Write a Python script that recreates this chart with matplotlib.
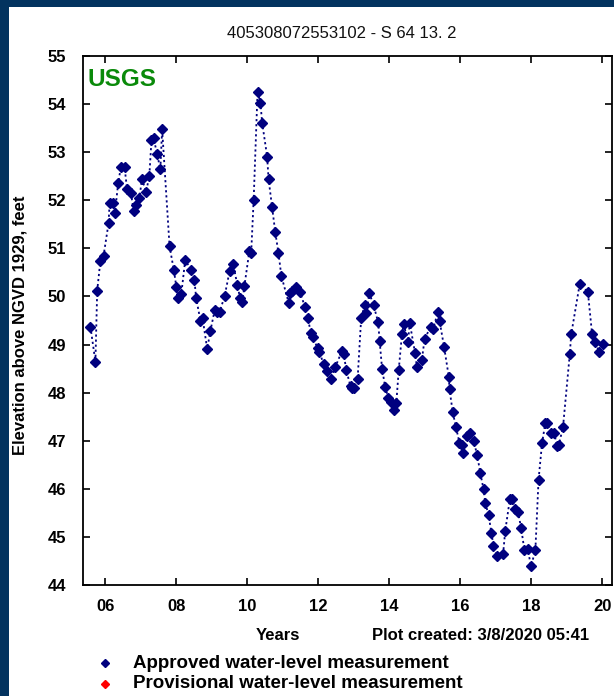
import matplotlib
matplotlib.use("Agg")
import matplotlib.pyplot as plt
from matplotlib.patches import Rectangle
from matplotlib.lines import Line2D

# ---- data (years since 2000, water-level elevation in feet) ----
years = [5.58, 5.72, 5.77, 5.86, 5.95, 6.09, 6.12, 6.22, 6.27, 6.36,
         6.44, 6.54, 6.61, 6.72, 6.80, 6.85, 6.96, 7.03, 7.15, 7.24,
         7.30, 7.36, 7.46, 7.55, 7.60, 7.81, 7.93, 8.00, 8.05, 8.14,
         8.25, 8.42, 8.51, 8.56, 8.68, 8.74, 8.87, 8.96, 9.08, 9.16,
         9.22, 9.36, 9.50, 9.60, 9.72, 9.80, 9.86, 9.92, 10.06, 10.11,
         10.18, 10.29, 10.37, 10.42, 10.56, 10.60, 10.70, 10.79, 10.88, 10.96,
         11.17, 11.21, 11.27, 11.38, 11.49, 11.62, 11.70, 11.80, 11.86, 11.98,
         12.03, 12.15, 12.25, 12.37, 12.48, 12.67, 12.72, 12.79, 12.91, 12.96,
         13.00, 13.11, 13.21, 13.31, 13.36, 13.44, 13.56, 13.69, 13.73, 13.80,
         13.89, 13.98, 14.05, 14.14, 14.20, 14.27, 14.36, 14.41, 14.53, 14.58,
         14.73, 14.78, 14.92, 15.00, 15.17, 15.24, 15.37, 15.42, 15.55, 15.68,
         15.70, 15.79, 15.88, 15.98, 16.05, 16.07, 16.19, 16.29, 16.38, 16.48,
         16.57, 16.66, 16.71, 16.80, 16.88, 16.94, 17.04, 17.21, 17.27, 17.40,
         17.46, 17.56, 17.63, 17.72, 17.81, 17.90, 18.00, 18.12, 18.21, 18.31,
         18.40, 18.45, 18.56, 18.65, 18.73, 18.78, 18.90, 19.09, 19.13, 19.37,
         19.60, 19.72, 19.81, 19.92, 20.02]
levels = [49.37, 48.64, 50.12, 50.74, 50.85, 51.52, 51.94, 51.94, 51.73, 52.35,
          52.70, 52.70, 52.24, 52.15, 51.78, 51.90, 52.04, 52.44, 52.18, 52.51,
          53.25, 53.29, 52.96, 52.64, 53.48, 51.04, 50.55, 50.20, 49.96, 50.05,
          50.75, 50.56, 50.34, 49.96, 49.50, 49.55, 48.91, 49.28, 49.71, 49.67,
          49.68, 50.00, 50.52, 50.68, 50.24, 49.96, 49.89, 50.22, 50.95, 50.90,
          52.01, 54.26, 54.03, 53.61, 52.91, 52.44, 51.85, 51.33, 50.90, 50.43,
          49.86, 50.08, 50.12, 50.20, 50.09, 49.79, 49.56, 49.23, 49.15, 48.92,
          48.85, 48.60, 48.44, 48.28, 48.53, 48.87, 48.80, 48.47, 48.13, 48.10,
          48.09, 48.28, 49.55, 49.82, 49.65, 50.07, 49.82, 49.46, 49.08, 48.49,
          48.11, 47.88, 47.81, 47.64, 47.78, 48.48, 49.22, 49.42, 49.06, 49.45,
          48.82, 48.54, 48.68, 49.12, 49.37, 49.32, 49.68, 49.49, 48.94, 48.33,
          48.07, 47.60, 47.29, 46.96, 46.91, 46.74, 47.09, 47.16, 47.00, 46.70,
          46.32, 45.99, 45.70, 45.46, 45.08, 44.81, 44.60, 44.64, 45.12, 45.78,
          45.78, 45.58, 45.52, 45.18, 44.73, 44.74, 44.40, 44.72, 46.19, 46.96,
          47.36, 47.36, 47.17, 47.17, 46.88, 46.91, 47.29, 48.80, 49.21, 50.26,
          50.09, 49.21, 49.05, 48.84, 49.01]

x_ticks = [6, 8, 10, 12, 14, 16, 18, 20]
x_tick_labels = ["06", "08", "10", "12", "14", "16", "18", "20"]
y_ticks = [44, 45, 46, 47, 48, 49, 50, 51, 52, 53, 54, 55]

title = "405308072553102 - S 64 13. 2"
ylabel = "Elevation above NGVD 1929, feet"
legend_labels = ["Approved water-level measurement",
                 "Provisional water-level measurement"]

NAVY_BG = "#03335f"
MARK = "#00007f"

plt.rcParams['font.family'] = ['Liberation Sans', 'DejaVu Sans']

W, H = 614, 696
fig = plt.figure(figsize=(W / 100, H / 100), dpi=100)
fig.patch.set_facecolor(NAVY_BG)
fig.patches.append(Rectangle((9 / W, 0), (W - 9) / W, (H - 7) / H,
                             transform=fig.transFigure, facecolor="white",
                             edgecolor="none", zorder=-10))

ax = fig.add_axes([83 / W, 1 - 585 / H, 529 / W, 529 / H])
ax.set_zorder(2)
ax.set_facecolor("white")
ax.plot(years, levels, linestyle=(0, (1.2, 1.6)), color=MARK, linewidth=1.3,
        marker="D", markersize=5.5, markerfacecolor=MARK, markeredgecolor=MARK)

ax.set_xlim(5.37, 20.28)
ax.set_ylim(44, 55)
ax.set_xticks(x_ticks)
ax.set_xticklabels(x_tick_labels)
ax.set_yticks(y_ticks)
ax.tick_params(direction="in", length=5, width=1.2, top=True, right=True,
               labelsize=12, colors="black")
ax.tick_params(axis="x", pad=10)
ax.tick_params(axis="y", pad=12)
for lab in ax.get_xticklabels() + ax.get_yticklabels():
    lab.set_fontweight("bold")
for s in ax.spines.values():
    s.set_linewidth(1.3)

ax.text(0.008, 0.978, "USGS", transform=ax.transAxes, ha="left", va="top",
        fontsize=17.5, fontweight="bold", color="#0a8a0a")

fig.text(342 / W, 1 - 34 / H, title, ha="center", va="center", fontsize=12,
         color="#111111")
fig.text(20 / W, 1 - 325 / H, ylabel, ha="center", va="center", rotation=90,
         fontsize=12, fontweight="bold")
fig.text(278 / W, 1 - 636 / H, "Years", ha="center", va="center",
         fontsize=12, fontweight="bold")
fig.text(372 / W, 1 - 636 / H, "Plot created: 3/8/2020 05:41", ha="left",
         va="center", fontsize=12, fontweight="bold")

for i, (lab, col) in enumerate(zip(legend_labels, [MARK, "#ff0000"])):
    yy = 1 - (663 + 21 * i) / H
    fig.add_artist(Line2D([105 / W], [yy], marker="D", markersize=4.5,
                          color=col, transform=fig.transFigure))
    fig.text(133 / W, yy, lab, ha="left", va="center", fontsize=13.5,
             fontweight="bold")

fig.savefig("out.png", dpi=100, facecolor=fig.get_facecolor())
